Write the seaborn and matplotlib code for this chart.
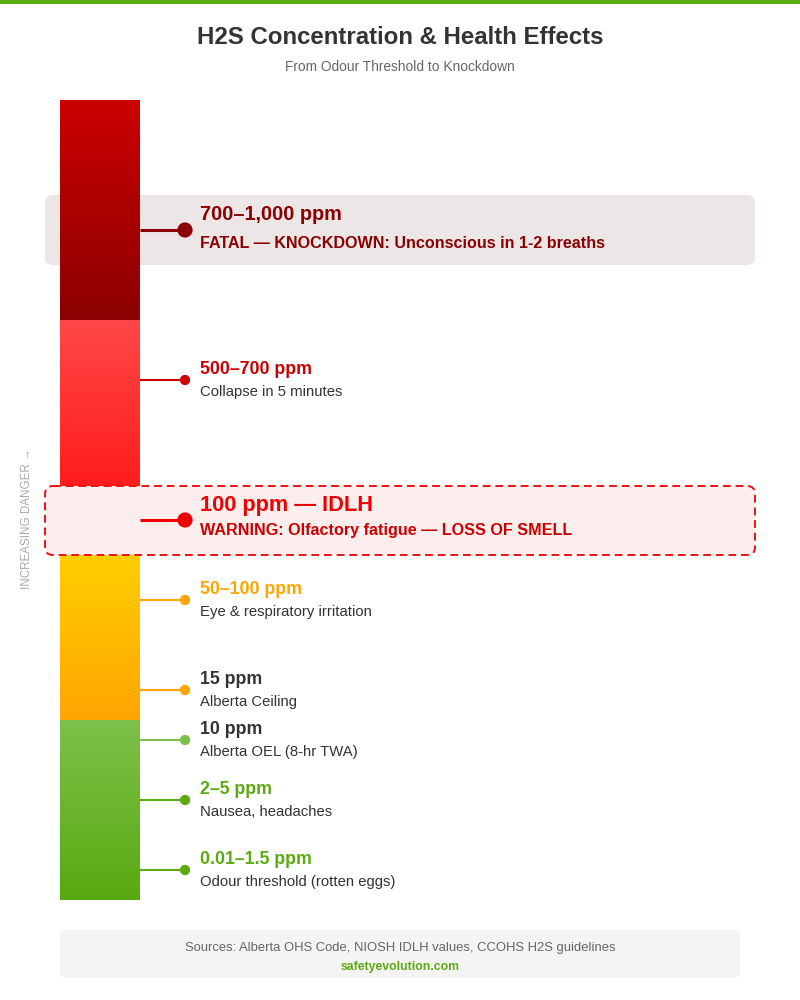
"""
H2S concentration ladder: gradient danger bar with labelled levels.
"""

import numpy as np
import pandas as pd
import matplotlib.pyplot as plt
import seaborn as sns
from matplotlib.colors import to_rgb
from matplotlib.patches import FancyBboxPatch, Rectangle

# ---- data ----
levels = ["700–1,000 ppm", "500–700 ppm", "100 ppm — IDLH", "50–100 ppm",
          "15 ppm", "10 ppm", "2–5 ppm", "0.01–1.5 ppm"]
effects = ["FATAL — KNOCKDOWN: Unconscious in 1-2 breaths",
           "Collapse in 5 minutes",
           "WARNING: Olfactory fatigue — LOSS OF SMELL",
           "Eye & respiratory irritation",
           "Alberta Ceiling",
           "Alberta OEL (8-hr TWA)",
           "Nausea, headaches",
           "Odour threshold (rotten eggs)"]
zones = ["fatal", "severe", "irritation", "safe"]

# ---- layout (pixel space) ----
marker_y = [230, 380, 520, 600, 690, 740, 800, 870]
zone_edges = [100, 320, 520, 720, 900]
zone_colors = [("#cc0000", "#8b0000"), ("#ff4747", "#ff1414"),
               ("#ffd700", "#ffa500"), ("#7dc14a", "#58a90f")]
label_color = ["#8b0000", "#cc0000", "#ee0000", "#ffa500",
               "#333333", "#333333", "#5aaa10", "#5aaa10"]
desc_color = ["#8b0000", "#333333", "#cc0000", "#333333",
              "#333333", "#333333", "#333333", "#333333"]
dot_color = ["#8b0000", "#cc0000", "#ee0000", "#ffa500",
             "#ffa500", "#7dc14a", "#5aaa10", "#5aaa10"]
big = [True, False, True, False, False, False, False, False]

sns.set_theme(style="white")
plt.rcParams["font.family"] = ["Liberation Sans", "DejaVu Sans"]

fig = plt.figure(figsize=(8, 10), dpi=100)
ax = fig.add_axes([0, 0, 1, 1])

# top accent strip
ax.add_patch(Rectangle((0, 0), 800, 4, color="#5aaa10", lw=0))

ax.text(400, 38, "H2S Concentration & Health Effects", ha="center", va="center",
        fontsize=17.3, fontweight="bold", color="#333333")
ax.text(400, 67, "From Odour Threshold to Knockdown", ha="center", va="center",
        fontsize=9.9, color="#666666")

# gradient bar segments
for i, zone in enumerate(zones):
    top, bottom = zone_edges[i], zone_edges[i + 1]
    c0, c1 = np.array(to_rgb(zone_colors[i][0])), np.array(to_rgb(zone_colors[i][1]))
    t = np.linspace(0, 1, 200).reshape(-1, 1, 1)
    img = c0 * (1 - t) + c1 * t
    ax.imshow(img, extent=[60, 140, bottom, top], aspect="auto", zorder=2)

# highlight boxes: fatal sits behind the bar, IDLH sits over it
ax.add_patch(FancyBboxPatch((45, 195), 710, 70,
                            boxstyle="round,pad=0,rounding_size=8",
                            fc="#ece6e6", ec="none", zorder=1))
ax.add_patch(FancyBboxPatch((45, 486), 710, 69,
                            boxstyle="round,pad=0,rounding_size=8",
                            fc="#fdeeee", ec="#ee1111", lw=1.4,
                            ls=(0, (4, 2.5)), zorder=3))

ax.text(27, 519, "INCREASING DANGER →", rotation=90, ha="center", va="center",
        fontsize=8.4, color="#aaaaaa")

# connectors and dots
for i in range(len(levels)):
    ax.plot([140, 185], [marker_y[i], marker_y[i]], color=dot_color[i],
            lw=2.2 if big[i] else 1.5, zorder=4, solid_capstyle="butt")

df = pd.DataFrame({"x": [185] * len(levels), "y": marker_y, "level": levels,
                   "size": ["big" if b else "small" for b in big]})
sns.scatterplot(data=df, x="x", y="y", hue="level",
                palette=dict(zip(levels, dot_color)),
                size="size", sizes={"big": 120, "small": 55},
                edgecolor="none", legend=False, ax=ax, zorder=5)
ax.set_xlim(0, 800)
ax.set_ylim(1000, 0)
ax.axis("off")

for i in range(len(levels)):
    y = marker_y[i]
    if big[i]:
        size_l = 14.3 if i == 0 else 15.7
        ax.text(200, y - 15, levels[i], ha="left", va="center",
                fontsize=size_l, fontweight="bold", color=label_color[i], zorder=6)
        ax.text(200, y + (13 if i == 0 else 11), effects[i], ha="left", va="center",
                fontsize=11.6, fontweight="bold", color=desc_color[i], zorder=6)
    else:
        ax.text(200, y - 10, levels[i], ha="left", va="center",
                fontsize=12.8, fontweight="bold", color=label_color[i], zorder=6)
        ax.text(200, y + 12, effects[i], ha="left", va="center",
                fontsize=10.7, color=desc_color[i], zorder=6)

# footer
ax.add_patch(FancyBboxPatch((60, 930), 680, 48,
                            boxstyle="round,pad=0,rounding_size=6",
                            fc="#f4f4f4", ec="none", zorder=2))
ax.text(400, 948, "Sources: Alberta OHS Code, NIOSH IDLH values, CCOHS H2S guidelines",
        ha="center", va="center", fontsize=9.4, color="#666666", zorder=3)
ax.text(400, 967, "safetyevolution.com", ha="center", va="center",
        fontsize=8.8, fontweight="bold", color="#5aaa10", zorder=3)

fig.savefig("out.png", dpi=100, facecolor="white")
